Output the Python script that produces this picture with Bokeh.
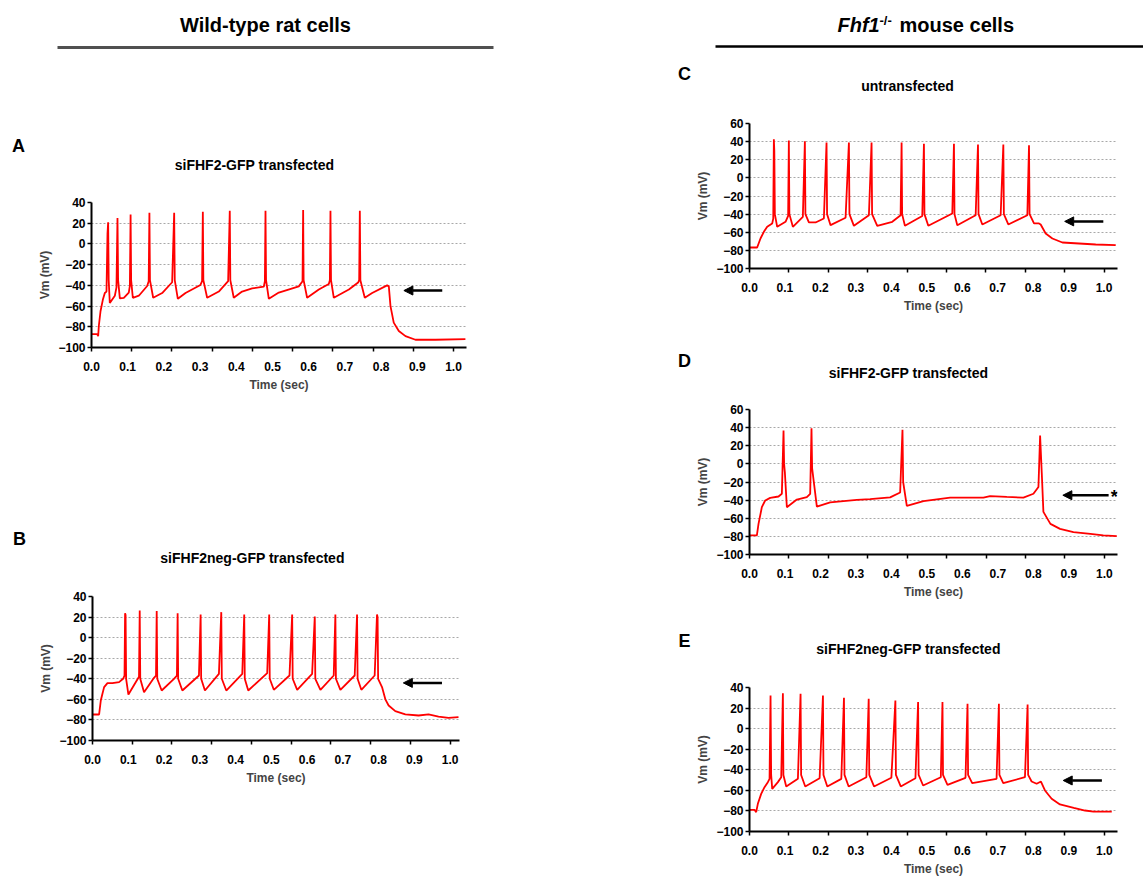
from bokeh.plotting import figure
from bokeh.layouts import row, column
from bokeh.models import Range1d, FixedTicker, PrintfTickFormatter, Label, Arrow, NormalHead
from bokeh.embed import file_html
from bokeh.resources import INLINE

a_time = [0.000, 0.0157, 0.0184, 0.0203, 0.0249, 0.0313, 0.0368, 0.0414, 0.0442, 0.0460, 0.0475, 0.0506,
          0.0645, 0.0690, 0.0718, 0.0735, 0.0783,
          0.0893, 0.1030, 0.1060, 0.1080, 0.1095, 0.1142,
          0.1308, 0.1538, 0.1580, 0.1600, 0.1615, 0.1704,
          0.1952, 0.2228, 0.2284, 0.2300, 0.2385,
          0.2597, 0.3010, 0.3055, 0.3076, 0.3090, 0.3195,
          0.3517, 0.3775, 0.3820, 0.3835, 0.3930,
          0.4160, 0.4438, 0.4760, 0.4790, 0.4807, 0.4822, 0.4899,
          0.5175, 0.5727, 0.5830, 0.5847, 0.5860, 0.5957,
          0.6280, 0.6556, 0.6585, 0.6602, 0.6617, 0.6694,
          0.7110, 0.7366, 0.7395, 0.7413, 0.7428, 0.7550,
          0.7753, 0.8167, 0.8214, 0.8260, 0.8350, 0.8490, 0.8674, 0.8950, 0.9500, 1.0330]
a_vm = [-87, -87, -89, -79, -65, -54, -47.4, -46, 10, 21, -35, -57,
        -50, -42, 25, -35, -52.6,
        -52, -47, -40.6, 28.5, -35, -52,
        -50, -40.6, -36, 30, -35, -52,
        -47.4, -37, 30, -35, -53,
        -47.4, -39.6, -36, 31, -35, -52,
        -46, -36, 32, -35, -52,
        -46, -43, -41.3, -36, 32, -35, -53,
        -47, -41, -36, 32.7, -35, -52,
        -44, -38.7, -35, 32, -35, -52,
        -44, -37.3, -35, 32, -35, -52,
        -47.4, -40, -41, -60, -76, -84, -89, -92.5, -92.5, -92]

b_time = [0.0000, 0.0185, 0.0232, 0.0278, 0.0325, 0.0418, 0.0557, 0.0743, 0.0855, 0.0895, 0.0911, 0.0925, 0.0940, 0.1004,
          0.1208, 0.1300, 0.1320, 0.1335, 0.1441,
          0.1720, 0.1775, 0.1795, 0.1810, 0.1934,
          0.2278, 0.2360, 0.2380, 0.2395, 0.2512,
          0.2976, 0.3023, 0.3038, 0.3143,
          0.3534, 0.3600, 0.3615, 0.3740,
          0.4187, 0.4242, 0.4257, 0.4354,
          0.4884, 0.4940, 0.4955, 0.5069,
          0.5507, 0.5582, 0.5597, 0.5722,
          0.6140, 0.6214, 0.6229, 0.6372,
          0.6744, 0.6790, 0.6805, 0.6930,
          0.7330, 0.7396, 0.7411, 0.7516,
          0.7888, 0.7954, 0.7970, 0.7985, 0.8094, 0.8187, 0.8279, 0.8465, 0.8745, 0.9116, 0.9395, 0.9674, 0.9953, 1.0232]
b_vm = [-74.7, -74.7, -61.1, -54.6, -48.1, -44.2, -44.2, -43.3, -40, -37, 23.8, 22, -40, -55.3,
        -43.3, -38, 26.4, -40, -53,
        -39, -37, 25.8, -40, -51.4,
        -40, -37, 23.8, -40, -51.4,
        -36.8, 22.5, -40, -51.4,
        -35.2, 24.8, -40, -51.4,
        -35.2, 22.5, -40, -51.4,
        -34.5, 22.5, -40, -50.7,
        -36.8, 22.5, -40, -50.7,
        -35.2, 20.6, -40, -50.7,
        -36.8, 22.5, -40, -50.7,
        -36.8, 22.5, -40, -50.7,
        -36.8, 22.5, 20, -40, -48, -60, -66, -71.5, -74.7, -75.7, -74.7, -76.7, -78, -77.3]

c_time = [0.0000, 0.0216, 0.0310, 0.0405, 0.0499, 0.0640, 0.0670, 0.0687, 0.0700, 0.0715, 0.0781,
          0.1016, 0.1090, 0.1110, 0.1125, 0.1223,
          0.1505, 0.1562, 0.1577, 0.1675, 0.1863, 0.2098, 0.2173, 0.2188, 0.2286,
          0.2710, 0.2804, 0.2819, 0.2945,
          0.3368, 0.3443, 0.3458, 0.3603,
          0.4027, 0.4262, 0.4290, 0.4305, 0.4384,
          0.4873, 0.4920, 0.4935, 0.5043,
          0.5720, 0.5767, 0.5782, 0.5861,
          0.6379, 0.6445, 0.6460, 0.6567,
          0.7084, 0.7160, 0.7175, 0.7300,
          0.7837, 0.7884, 0.7900, 0.8025, 0.8166, 0.8213, 0.8354, 0.8543, 0.8825, 0.9295, 0.9766, 1.0330]
c_vm = [-76.8, -76.8, -66.9, -59.5, -54, -50.3, -45, 42.7, 30, -40, -54,
        -48.5, -42, 41.2, -40, -54,
        -43, 40.5, -40, -49.2, -49.2, -44.8, 39, -40, -52.2,
        -44, 39, -40, -52.9,
        -41.2, 39, -40, -52.9,
        -48.5, -41.2, 39, -40, -52.9,
        -42, 37.6, -40, -52.9,
        -39.3, 37.6, -40, -52.2,
        -41.2, 36.8, -40, -51.4,
        -41.2, 36.8, -40, -51.4,
        -41.2, 36.1, -40, -50.3, -50.3, -51.4, -61.4, -66.9, -71.3, -72.4, -73.5, -74.3]

d_time = [0.0000, 0.0208, 0.0254, 0.0348, 0.0442, 0.0583, 0.0818, 0.0912, 0.0959, 0.0975, 0.0996, 0.1053,
          0.1334, 0.1616, 0.1710, 0.1747, 0.1765, 0.1898,
          0.2273, 0.3024, 0.3400, 0.3963, 0.4245, 0.4311, 0.4330, 0.4433,
          0.4902, 0.5654, 0.6592, 0.6780, 0.7250, 0.7719, 0.8001, 0.8142, 0.8189, 0.8236, 0.8282,
          0.8480, 0.8750, 0.9128, 0.9605, 0.9970, 1.0350]
d_vm = [-79, -79, -66.2, -47.8, -40.4, -37.5, -36, -33, 36.8, 0, -9, -47.8,
        -39.4, -36.8, -33, 39.4, -5, -47.1,
        -42.4, -39.8, -39, -37, -31.6, 37.6, -20, -46.4,
        -41, -37.3, -37.3, -35.5, -36.5, -37.3, -33, -25.6, 31.3, -10, -53,
        -66.2, -71.7, -75.4, -77.2, -79, -79.8]

e_time = [0.0000, 0.0141, 0.0188, 0.0235, 0.0329, 0.0423, 0.0517, 0.0565, 0.0593, 0.0610, 0.0640,
          0.0800, 0.0894, 0.0941, 0.0955, 0.1035,
          0.1364, 0.1439, 0.1455, 0.1571,
          0.1976, 0.2070, 0.2085, 0.2192,
          0.2587, 0.2662, 0.2677, 0.2794,
          0.3293, 0.3359, 0.3375, 0.3509,
          0.3998, 0.4111, 0.4126, 0.4262,
          0.4676, 0.4751, 0.4766, 0.4892,
          0.5391, 0.5438, 0.5453, 0.5579,
          0.6087, 0.6144, 0.6160, 0.6275,
          0.6962, 0.7028, 0.7043, 0.7150,
          0.7762, 0.7837, 0.7852, 0.7950, 0.8091, 0.8213, 0.8326, 0.8514, 0.8749, 0.9138, 0.9455, 0.9691, 1.0208]
e_vm = [-78.9, -78.9, -81.2, -73.1, -63.4, -56.9, -52, -48.8, 32.2, -45, -58.5,
        -52, -47.2, 34.5, -45, -56.2,
        -48.7, 33.8, -45, -56.2,
        -48.2, 32.2, -45, -56.2,
        -48.8, 30, -45, -56.2,
        -47.2, 29, -45, -56.2,
        -47.8, 27.4, -45, -56.2,
        -48.2, 25.8, -45, -55.3,
        -47.2, 25.8, -45, -54.6,
        -47.8, 24.1, -45, -53,
        -48.8, 24.1, -45, -53,
        -47.2, 23.4, -45, -51.4, -53.6, -51.4, -60.1, -68.2, -73.7, -77, -79.6, -80.6, -80.6]

x_label_ticks = [0.0, 0.1, 0.2, 0.3, 0.4, 0.5, 0.6, 0.7, 0.8, 0.9, 1.0]
x_mark_ticks = [k / 9 for k in range(10)]
y_ticks_40 = [-100, -80, -60, -40, -20, 0, 20, 40]
y_ticks_60 = [-100, -80, -60, -40, -20, 0, 20, 40, 60]

header_left_text = "Wild-type rat cells"
header_right_parts = ["Fhf1", "-/-", "mouse cells"]

FONT = "Liberation Sans"
TRACE = "#ff0000"


def blank(width, height, bl=0, br=0, bt=0, bb=0):
    f = figure(width=width, height=height, output_backend="svg", toolbar_location=None,
               x_range=Range1d(0, 1), y_range=Range1d(0, 1),
               min_border_left=bl, min_border_right=br, min_border_top=bt, min_border_bottom=bb)
    f.frame_align = False
    f.outline_line_color = None
    f.grid.visible = False
    f.axis.visible = False
    return f


def text_label(fig, x, y, txt, size, style="bold", align="center", baseline="middle"):
    fig.add_layout(Label(x=x, y=y, x_units="screen", y_units="screen", text=txt,
                         text_font=FONT, text_font_style=style, text_font_size=size,
                         text_align=align, text_baseline=baseline, text_color="black"))


def make_caption(width, height, letter, letter_pos, title, title_pos):
    c = blank(width, height)
    text_label(c, letter_pos[0], letter_pos[1], letter, "18px")
    text_label(c, title_pos[0], title_pos[1], title, "14px")
    return c


def make_panel(time, vm, width, height, borders, t_max, y_ticks, arrow, star=None):
    bl, br, bt, bb = borders
    p = figure(width=width, height=height, output_backend="svg", toolbar_location=None,
               x_range=Range1d(0, t_max), y_range=Range1d(y_ticks[0], y_ticks[-1]),
               min_border_left=bl, min_border_right=br, min_border_top=bt, min_border_bottom=bb)
    p.frame_align = False
    p.outline_line_color = None
    p.background_fill_color = "white"
    p.border_fill_color = "white"
    p.xgrid.visible = False
    p.ygrid.ticker = FixedTicker(ticks=y_ticks)
    p.ygrid.grid_line_color = "#a8a8a8"
    p.ygrid.grid_line_dash = "2 2"
    p.ygrid.grid_line_width = 1

    xa = p.xaxis[0]
    xa.ticker = FixedTicker(ticks=x_label_ticks, minor_ticks=x_mark_ticks)
    xa.formatter = PrintfTickFormatter(format="%.1f")
    xa.axis_line_width = 2
    xa.axis_line_color = "black"
    xa.major_tick_line_color = None
    xa.major_tick_out = 4
    xa.major_tick_in = 0
    xa.minor_tick_line_color = "black"
    xa.minor_tick_line_width = 1.5
    xa.minor_tick_out = 4
    xa.minor_tick_in = 0
    xa.major_label_standoff = 10
    xa.major_label_text_font = FONT
    xa.major_label_text_font_style = "bold"
    xa.major_label_text_font_size = "12px"
    xa.major_label_text_color = "black"
    xa.axis_label = "Time (sec)"
    xa.axis_label_text_font = FONT
    xa.axis_label_text_font_style = "bold"
    xa.axis_label_text_font_size = "12px"
    xa.axis_label_standoff = 4

    ya = p.yaxis[0]
    ya.ticker = FixedTicker(ticks=y_ticks)
    ya.axis_line_width = 2
    ya.axis_line_color = "black"
    ya.major_tick_line_color = "black"
    ya.major_tick_line_width = 1.5
    ya.major_tick_out = 4
    ya.major_tick_in = 0
    ya.minor_tick_line_color = None
    ya.major_label_standoff = 2
    ya.major_label_text_font = FONT
    ya.major_label_text_font_style = "bold"
    ya.major_label_text_font_size = "12px"
    ya.major_label_text_color = "black"
    ya.axis_label = "Vm (mV)"
    ya.axis_label_text_font = FONT
    ya.axis_label_text_font_style = "bold"
    ya.axis_label_text_font_size = "12px"
    ya.axis_label_standoff = 3

    p.line(time, vm, line_color=TRACE, line_width=1.8)

    x0, x1, yv = arrow
    p.add_layout(Arrow(end=NormalHead(size=9, fill_color="black", line_color="black", line_width=1),
                       x_start=x0, y_start=yv, x_end=x1, y_end=yv,
                       line_color="black", line_width=2.5))
    if star is not None:
        p.add_layout(Label(x=star[0], y=star[1], text="*", text_font=FONT, text_font_style="bold",
                           text_font_size="18px", text_align="center", text_baseline="middle",
                           text_color="black"))
    return p


def make_header(width, height, bl, br, bb, line_color, line_width):
    h = blank(width, height, bl=bl, br=br, bt=0, bb=bb)
    h.xaxis.visible = True
    xa = h.xaxis[0]
    xa.ticker = FixedTicker(ticks=[])
    xa.axis_line_color = line_color
    xa.axis_line_width = line_width
    xa.major_tick_line_color = None
    xa.minor_tick_line_color = None
    xa.major_label_text_font_size = "0px"
    xa.major_label_standoff = 0
    return h


# ---------------- headers ----------------
hl = make_header(670, 60, 57, 177, 13, "#505050", 3)
text_label(hl, 208, 23, header_left_text, "20px", baseline="alphabetic")

hr = make_header(473, 60, 45, 0, 14, "black", 2.5)
text_label(hr, 122, 22, header_right_parts[0], "20px", style="bold italic", align="left", baseline="alphabetic")
text_label(hr, 164, 26, header_right_parts[1], "13px", align="left", baseline="alphabetic")
text_label(hr, 184, 22, header_right_parts[2], "20px", align="left", baseline="alphabetic")

# ---------------- captions + panels ----------------
cap_a = make_caption(670, 120, "A", (18, 35), "siFHF2-GFP transfected", (254, 16))
pa = make_panel(a_time, a_vm, 670, 220, (91, 204, 22, 53), 1.036, y_ticks_40, (0.969, 0.863, -45))

cap_b = make_caption(670, 170, "B", (19, 32), "siFHF2neg-GFP transfected", (252, 13))
pb = make_panel(b_time, b_vm, 670, 308, (92, 211, 26, 138), 1.026, y_ticks_40, (0.977, 0.869, -44))

cap_c = make_caption(473, 40, "C", (14, 27), "untransfected", (237, 15))
pc = make_panel(c_time, c_vm, 473, 240, (79, 26, 23, 72), 1.038, y_ticks_60, (0.998, 0.889, -48))

cap_d = make_caption(473, 45, "D", (14, 25), "siFHF2-GFP transfected", (238, 13))
pd = make_panel(d_time, d_vm, 473, 230, (79, 26, 24, 61), 1.037, y_ticks_60, (1.012, 0.883, -34.6),
                star=(1.028, -37))

cap_e = make_caption(473, 45, "E", (14, 20), "siFHF2neg-GFP transfected", (238, 12))
pe = make_panel(e_time, e_vm, 473, 218, (79, 26, 27, 47), 1.037, y_ticks_40, (0.993, 0.884, -50.4))

left_col = column(hl, cap_a, pa, cap_b, pb, spacing=0)
right_col = column(hr, cap_c, pc, cap_d, pd, cap_e, pe, spacing=0)
page = row(left_col, right_col, spacing=0)

open("out.html", "w").write(file_html(page, INLINE, title="Action potential traces"))
